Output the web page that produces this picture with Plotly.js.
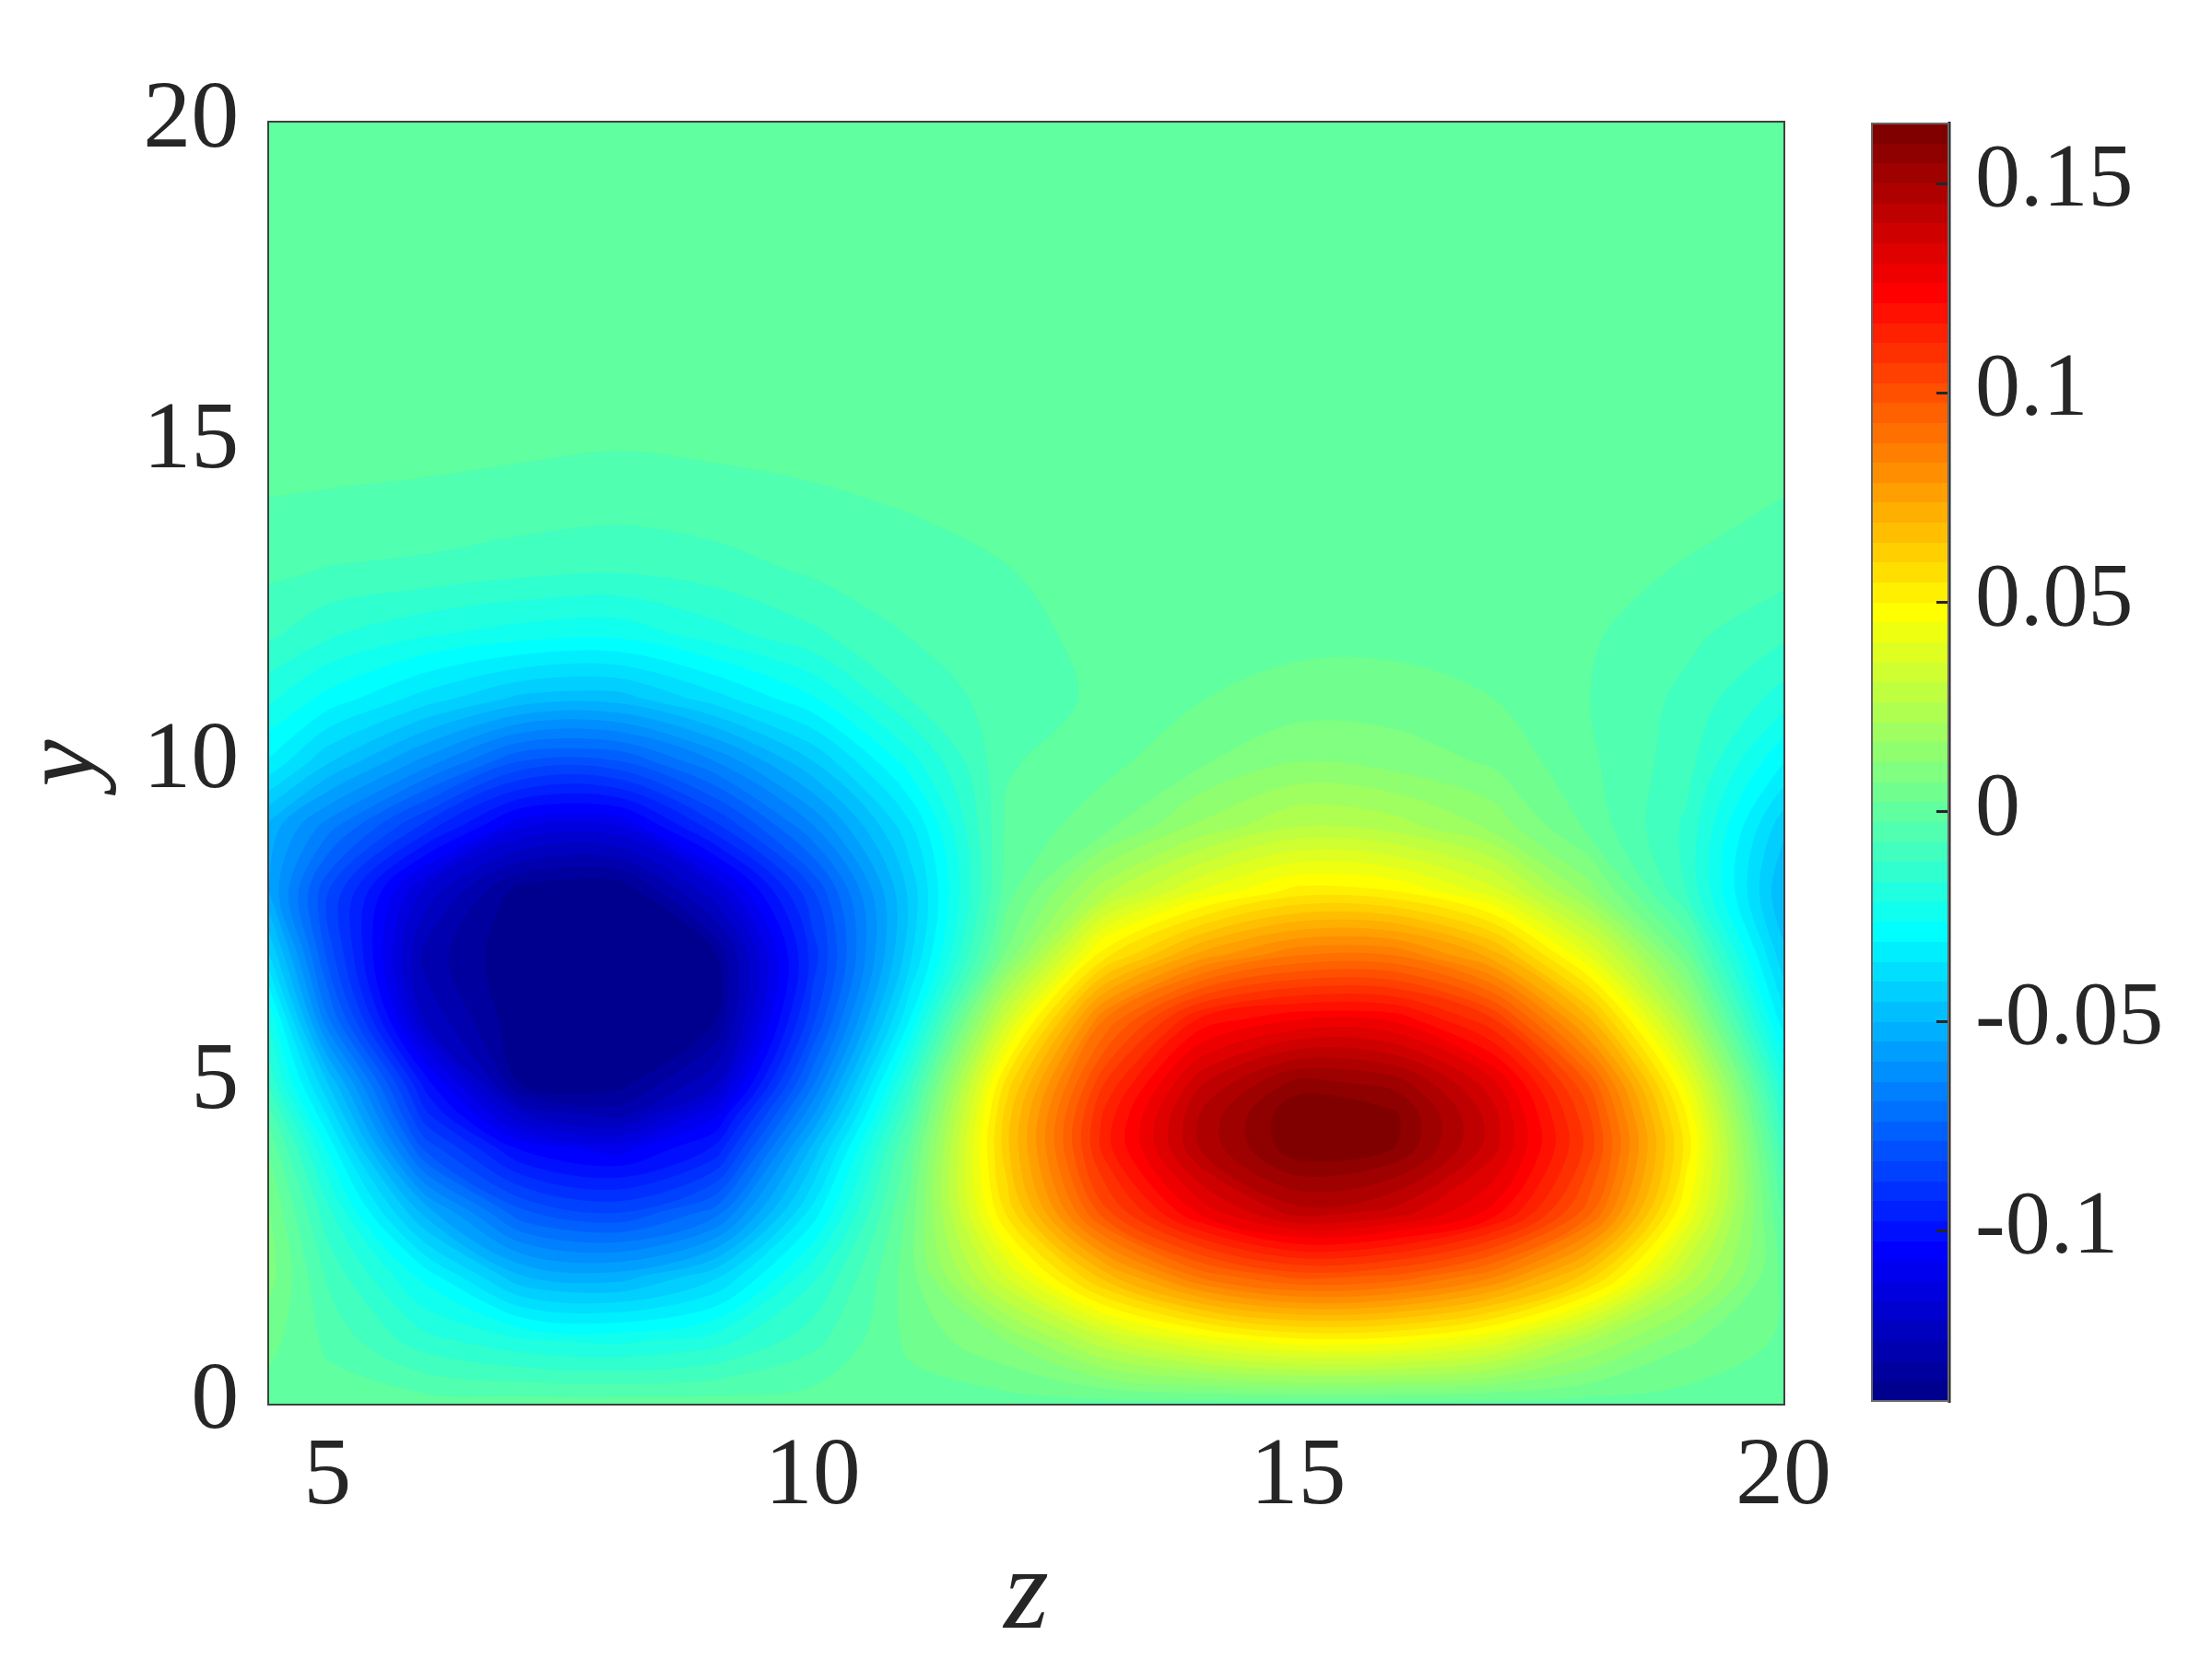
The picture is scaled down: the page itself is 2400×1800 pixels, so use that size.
<!DOCTYPE html>
<html>
<head>
<meta charset="utf-8">
<script src="https://cdn.plot.ly/plotly-3.0.1.min.js"></script>
<style>body { margin: 0; background: white; }</style>
</head>
<body>
<div id="plot" style="width:2400px;height:1800px;"></div>
<script>
// values
var zPos = [4.4, 5, 6, 7, 8, 9, 10, 11, 12, 13, 14, 15, 16, 17, 18, 19, 20];
var yPos = [0, 1, 2, 3, 4, 4.5, 5, 6, 7, 8, 9, 10, 11, 12, 13, 14, 15, 16, 18, 20];

var field = [
  [0, 0, 0, 0, 0, 0, 0, 0, 0, 0, 0, 0, 0, 0, 0, 0, 0],
  [.004, -.0035, -.015, -.021, -.023, -.019, -.009, .0035, .012, .03, .042, .049, .048, .04, .022, .008, .0015],
  [.009, -.008, -.028, -.05, -.053, -.042, -.018, .005, .036, .067, .09, .1, .097, .085, .062, .027, .001],
  [.0075, -.015, -.052, -.078, -.084, -.072, -.034, .004, .056, .101, .128, .1435, .139, .125, .095, .045, -.003],
  [.0015, -.027, -.08, -.104, -.11, -.097, -.049, -.001, .063, .114, .146, .1635, .1595, .138, .105, .053, -.01],
  [-.005, -.036, -.091, -.121, -.128, -.108, -.06, -.007, .062, .113, .146, .1643, .1605, .138, .103, .05, -.015],
  [-.013, -.045, -.0995, -.1365, -.138, -.122, -.07, -.014, .057, .107, .14, .157, .153, .133, .097, .043, -.02],
  [-.022, -.068, -.122, -.1403, -.1405, -.1362, -.085, -.031, .034, .088, .118, .126, .125, .108, .07, .022, -.034],
  [-.04, -.08, -.128, -.1405, -.1406, -.1362, -.091, -.042, .008, .053, .076, .088, .088, .072, .04, .0035, -.044],
  [-.055, -.083, -.118, -.1385, -.1405, -.118, -.084, -.044, 0, .024, .041, .052, .05, .038, .014, -.012, -.05],
  [-.052, -.067, -.09, -.112, -.113, -.09, -.065, -.037, -.0015, .0055, .018, .0262, .024, .0155, .001, -.013, -.044],
  [-.032, -.045, -.062, -.08, -.08, -.065, -.046, -.024, -.003, .0008, .0065, .012, .01, .0065, -.0015, -.01, -.031],
  [-.0205, -.028, -.038, -.047, -.048, -.038, -.027, -.012, -.0042, -.0018, .0022, .0042, .0045, .0024, -.0024, -.0085, -.019],
  [-.011, -.016, -.021, -.024, -.025, -.019, -.013, -.007, -.0035, -.0015, .0002, .001, .0008, -.0002, -.0018, -.006, -.011],
  [-.0062, -.0075, -.0085, -.0105, -.0115, -.0095, -.0065, -.0045, -.0026, -.0005, 0, .0001, 0, -.0002, -.001, -.0028, -.0055],
  [-.0027, -.003, -.0035, -.0045, -.0055, -.0045, -.0035, -.0022, -.0012, -.0002, 0, 0, 0, 0, -.0003, -.0011, -.0027],
  [-.001, -.001, -.0012, -.0015, -.002, -.0015, -.0008, -.0003, -.0002, 0, 0, 0, 0, 0, 0, -.0002, -.001],
  [0, 0, 0, 0, 0, 0, 0, 0, 0, 0, 0, 0, 0, 0, 0, 0, 0],
  [0, 0, 0, 0, 0, 0, 0, 0, 0, 0, 0, 0, 0, 0, 0, 0, 0],
  [0, 0, 0, 0, 0, 0, 0, 0, 0, 0, 0, 0, 0, 0, 0, 0, 0]
];

var xTicks = [5, 10, 15, 20];
var yTicks = [0, 5, 10, 15, 20];
var cbTicks = [-0.1, -0.05, 0, 0.05, 0.1, 0.15];
var cbLabels = ['-0.1', '-0.05', '0', '0.05', '0.1', '0.15'];

var zMin = -0.1406;
var zMax = 0.1643;
var nBands = 64;
var band = (zMax - zMin) / nBands;

// matlab jet, one flat colour per contour band
function jetColor(f) {
  var r = Math.min(1, Math.max(0, f < 0.875 ? (f - 0.375) * 4 : 1 - (f - 0.875) * 4));
  var g = Math.min(1, Math.max(0, f < 0.5 ? (f - 0.125) * 4 : (0.875 - f) * 4));
  var b = Math.min(1, Math.max(0, f < 0.125 ? 0.5 + f * 4 : (0.625 - f) * 4));
  return 'rgb(' + Math.round(r * 255) + ',' + Math.round(g * 255) + ',' + Math.round(b * 255) + ')';
}
var fillScale = [];
var barScale = [];
for (var k = 1; k <= nBands; k++) {
  fillScale.push([(k - 1) / (nBands - 1), jetColor(k / nBands)]);
  barScale.push([(k - 1) / nBands, jetColor(k / nBands)]);
  barScale.push([k / nBands, jetColor(k / nBands)]);
}

var textColor = '#262626';
var serif = '"Liberation Serif", serif';

var trace = {
  type: 'contour',
  x: zPos,
  y: yPos,
  z: field,
  colorscale: fillScale,
  showscale: false,
  autocontour: false,
  contours: {start: zMin + band, end: zMax - band / 2, size: band, coloring: 'fill', showlines: false},
  line: {width: 0, smoothing: 1}
};

// off-axis heatmap, only here to carry the colorbar over the full z range
var barTrace = {
  type: 'heatmap',
  x: [0, 1],
  y: [0, 1],
  z: [[zMin, zMax], [zMin, zMax]],
  zmin: zMin,
  zmax: zMax,
  colorscale: barScale,
  hoverinfo: 'skip',
  colorbar: {
    x: (2031 - 292) / 1643,
    xanchor: 'left',
    xpad: 0,
    y: (1523 - 134) / 1390,
    yanchor: 'top',
    ypad: 0,
    thickness: 83,
    thicknessmode: 'pixels',
    len: 1386,
    lenmode: 'pixels',
    outlinecolor: '#666666',
    outlinewidth: 2,
    tickmode: 'array',
    tickvals: cbTicks,
    ticktext: cbLabels,
    showticklabels: false,
    ticks: 'inside',
    ticklen: 14,
    tickwidth: 3,
    tickcolor: textColor
  }
};

// colorbar labels sit a little above their ticks, which the colorbar itself can't do
var cbAnnotations = cbTicks.map(function (v, i) {
  return {
    xref: 'paper',
    yref: 'paper',
    x: (2141 - 292) / 1643,
    y: (1523 - 134 - 1386 * (zMax - v) / (zMax - zMin)) / 1390,
    xanchor: 'left',
    yanchor: 'middle',
    yshift: 9,
    showarrow: false,
    text: cbLabels[i],
    font: {family: serif, size: 98, color: textColor}
  };
});

var layout = {
  width: 2400,
  height: 1800,
  paper_bgcolor: 'white',
  plot_bgcolor: 'white',
  showlegend: false,
  margin: {l: 292, r: 465, t: 133, b: 277, pad: 0},
  xaxis: {
    range: [4.4, 20],
    tickmode: 'array',
    tickvals: xTicks,
    ticktext: xTicks.map(String),
    ticks: '',
    showgrid: false,
    zeroline: false,
    showline: true,
    mirror: true,
    linecolor: '#404040',
    linewidth: 2,
    tickangle: 0,
    ticklabelstandoff: -19,
    tickfont: {family: serif, size: 104, color: textColor},
    title: {text: '<i>z</i>', font: {family: serif, size: 125, color: textColor}, standoff: 27}
  },
  yaxis: {
    range: [0, 20],
    tickmode: 'array',
    tickvals: yTicks,
    ticktext: yTicks.map(String),
    ticks: '',
    showgrid: false,
    zeroline: false,
    showline: true,
    mirror: true,
    linecolor: '#404040',
    linewidth: 2,
    ticklabelstandoff: 10,
    ticklabelshift: -10,
    tickfont: {family: serif, size: 104, color: textColor},
    title: {text: '<i>y</i>', font: {family: serif, size: 115, color: textColor}, standoff: 26}
  },
  annotations: cbAnnotations,
  shapes: [
    // dark right edge of the colorbar
    {type: 'line', xref: 'paper', yref: 'paper', x0: (2115 - 292) / 1643, x1: (2115 - 292) / 1643,
     y0: (1523 - 1522) / 1390, y1: (1523 - 132) / 1390, line: {color: textColor, width: 3}}
  ]
};

Plotly.newPlot('plot', [trace, barTrace], layout, {displayModeBar: false});
</script>
</body>
</html>
